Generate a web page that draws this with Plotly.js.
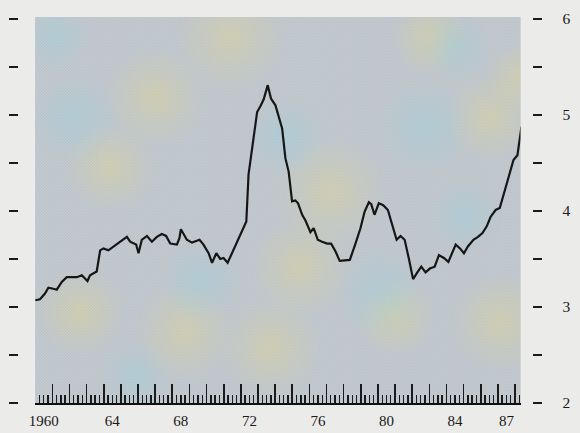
<!DOCTYPE html>
<html>
<head>
<meta charset="utf-8">
<script src="https://cdn.plot.ly/plotly-3.0.1.min.js"></script>
<style>
  html, body { margin: 0; padding: 0; background: #ebebe9; }
  #chart { width: 580px; height: 433px; }
</style>
</head>
<body>
<div id="chart"></div>
<script>
// Time (decimal year) and value
const years = [
  1960.00, 1960.28, 1960.57, 1960.77, 1961.06, 1961.26, 1961.55, 1961.84, 1962.13, 1962.43,
  1962.72, 1962.91, 1963.05, 1963.20, 1963.50, 1963.59, 1963.79, 1963.98, 1964.27, 1964.56,
  1964.96, 1965.35, 1965.54, 1965.73, 1965.89, 1966.03, 1966.22, 1966.52, 1966.81, 1967.10,
  1967.39, 1967.64, 1967.88, 1968.27, 1968.42, 1968.50, 1968.66, 1968.85, 1969.15, 1969.34,
  1969.59, 1969.82, 1970.12, 1970.32, 1970.57, 1970.80, 1970.99, 1971.23, 1971.48, 1971.87,
  1972.20, 1972.32, 1972.45, 1972.60, 1972.79, 1972.95, 1973.14, 1973.33, 1973.57, 1973.76,
  1974.02, 1974.21, 1974.41, 1974.60, 1974.79, 1974.99, 1975.18, 1975.34, 1975.58, 1975.77,
  1976.06, 1976.25, 1976.49, 1976.74, 1977.04, 1977.27, 1977.52, 1977.77, 1978.11, 1978.36,
  1978.69, 1978.98, 1979.22, 1979.47, 1979.61, 1979.80, 1980.05, 1980.31, 1980.58, 1980.84,
  1981.09, 1981.32, 1981.56, 1981.81, 1982.05, 1982.30, 1982.53, 1982.78, 1983.03, 1983.31,
  1983.56, 1983.85, 1984.11, 1984.54, 1984.79, 1985.02, 1985.25, 1985.57, 1985.84, 1986.10,
  1986.35, 1986.58, 1986.87, 1987.11, 1987.36, 1987.65, 1987.91, 1988.14, 1988.38
];
const values = [
  3.07, 3.08, 3.14, 3.20, 3.19, 3.18, 3.26, 3.31, 3.31, 3.31,
  3.33, 3.30, 3.27, 3.33, 3.36, 3.37, 3.59, 3.61, 3.59, 3.63,
  3.68, 3.73, 3.68, 3.66, 3.65, 3.56, 3.70, 3.74, 3.68, 3.73,
  3.76, 3.74, 3.66, 3.65, 3.72, 3.81, 3.76, 3.70, 3.67, 3.68,
  3.70, 3.65, 3.56, 3.46, 3.56, 3.50, 3.51, 3.46, 3.56, 3.72,
  3.85, 3.89, 4.38, 4.58, 4.83, 5.03, 5.09, 5.16, 5.31, 5.17,
  5.10, 4.99, 4.86, 4.55, 4.41, 4.10, 4.11, 4.08, 3.96, 3.90,
  3.78, 3.82, 3.70, 3.68, 3.66, 3.66, 3.58, 3.48, 3.49, 3.49,
  3.66, 3.82, 3.99, 4.09, 4.07, 3.96, 4.08, 4.06, 4.01, 3.85,
  3.70, 3.74, 3.70, 3.50, 3.29, 3.36, 3.42, 3.36, 3.40, 3.42,
  3.54, 3.51, 3.47, 3.65, 3.61, 3.56, 3.63, 3.70, 3.73, 3.77,
  3.84, 3.94, 4.01, 4.03, 4.18, 4.38, 4.53, 4.58, 4.88
];
// Axis labels
const xLabelPos = [1960.5, 1964.5, 1968.5, 1972.5, 1976.5, 1980.5, 1984.5, 1987.5];
const xLabelText = ['1960', '64', '68', '72', '76', '80', '84', '87'];
const yLabelVals = [2, 3, 4, 5, 6];
const yLabelText = ['2', '3', '4', '5', '6'];

const xRange = [1960, 1988.32];
const yRange = [2, 6.02];
const fontFam = '"Liberation Serif", "DejaVu Serif", serif';

// Decorative print-like texture for the plot background (purely visual)
function textureSVG() {
  const W = 485, H = 386;
  const yel = [[195,20,55],[120,80,50],[75,150,45],[295,175,55],[265,250,50],[45,295,45],[150,315,50],[235,330,50],[455,100,45],[465,305,50],[485,60,35],[395,20,40],[360,300,40]];
  const cya = [[40,100,45],[165,265,40],[345,275,45],[390,110,48],[420,30,35],[250,120,40],[100,360,35],[430,200,38],[20,20,35]];
  let s = '<svg xmlns="http://www.w3.org/2000/svg" width="' + W + '" height="' + H + '" viewBox="0 0 ' + W + ' ' + H + '" preserveAspectRatio="none">';
  s += '<defs>';
  s += '<radialGradient id="gy"><stop offset="0" stop-color="#e6d98e" stop-opacity="0.42"/><stop offset="0.5" stop-color="#e6d98e" stop-opacity="0.2"/><stop offset="1" stop-color="#e6d98e" stop-opacity="0"/></radialGradient>';
  s += '<radialGradient id="gc"><stop offset="0" stop-color="#98d4e2" stop-opacity="0.4"/><stop offset="0.5" stop-color="#98d4e2" stop-opacity="0.18"/><stop offset="1" stop-color="#98d4e2" stop-opacity="0"/></radialGradient>';
  s += '<pattern id="hp" width="3" height="3" patternUnits="userSpaceOnUse"><path d="M0,3 L3,0" stroke="#8a929a" stroke-width="0.6" stroke-opacity="0.3"/></pattern>';
  s += '</defs>';
  s += '<rect width="' + W + '" height="' + H + '" fill="#c3cad0"/>';
  yel.forEach(function (b) { s += '<circle cx="' + b[0] + '" cy="' + b[1] + '" r="' + b[2] + '" fill="url(#gy)"/>'; });
  cya.forEach(function (b) { s += '<circle cx="' + b[0] + '" cy="' + b[1] + '" r="' + b[2] + '" fill="url(#gc)"/>'; });
  s += '<rect width="' + W + '" height="' + H + '" fill="url(#hp)"/>';
  s += '</svg>';
  return 'data:image/svg+xml;charset=utf-8,' + encodeURIComponent(s);
}

const traces = [
  {
    x: years, y: values, type: 'scatter', mode: 'lines',
    line: { color: '#161616', width: 2.2, shape: 'linear' },
    hoverinfo: 'skip', showlegend: false,
    xaxis: 'x', yaxis: 'y'
  },
  { x: years, y: values, mode: 'lines', line: { width: 0 }, opacity: 0, hoverinfo: 'skip', showlegend: false, xaxis: 'x2', yaxis: 'y' },
  { x: years, y: values, mode: 'lines', line: { width: 0 }, opacity: 0, hoverinfo: 'skip', showlegend: false, xaxis: 'x', yaxis: 'y2' },
  { x: years, y: values, mode: 'lines', line: { width: 0 }, opacity: 0, hoverinfo: 'skip', showlegend: false, xaxis: 'x', yaxis: 'y3' }
];

const xDom = [35.2 / 580, 520.5 / 580];
const yDom = [30 / 433, 416 / 433];

const layout = {
  width: 580, height: 433,
  margin: { l: 0, r: 0, t: 0, b: 0, pad: 0 },
  paper_bgcolor: '#ebebe9',
  plot_bgcolor: '#c3cad0',
  showlegend: false,
  font: { family: fontFam, size: 15, color: '#1a1a1a' },
  images: [{
    source: textureSVG(), xref: 'paper', yref: 'paper',
    x: xDom[0], y: yDom[1], sizex: xDom[1] - xDom[0], sizey: yDom[1] - yDom[0],
    xanchor: 'left', yanchor: 'top', sizing: 'stretch', layer: 'below'
  }],
  xaxis: {
    domain: xDom,
    range: xRange,
    showgrid: false, zeroline: false,
    showline: true, linecolor: '#111', linewidth: 2.2,
    ticks: 'inside', tick0: 1960, dtick: 1, ticklen: 19, tickwidth: 1.6, tickcolor: '#1a1a1a',
    minor: { tick0: 1960, dtick: 0.25, ticks: 'inside', ticklen: 8, tickwidth: 1.4, tickcolor: '#1a1a1a', showgrid: false },
    showticklabels: false,
    anchor: 'y'
  },
  xaxis2: {
    overlaying: 'x', matches: 'x', range: xRange, anchor: 'y', side: 'bottom',
    showgrid: false, zeroline: false, showline: false,
    ticks: '', tickmode: 'array', tickvals: xLabelPos, ticktext: xLabelText,
    tickfont: { family: fontFam, size: 15, color: '#1a1a1a' },
    ticklabelstandoff: 7
  },
  yaxis: {
    domain: yDom,
    range: yRange,
    showgrid: false, zeroline: false, showline: false,
    ticks: '', showticklabels: false,
    anchor: 'x'
  },
  yaxis2: {
    overlaying: 'y', matches: 'y', range: yRange,
    anchor: 'free', position: 531.5 / 580, side: 'right',
    showgrid: false, zeroline: false, showline: false,
    ticks: 'outside', ticklen: 9, tickwidth: 2.4, tickcolor: '#1a1a1a',
    tickmode: 'array', tickvals: yLabelVals, ticktext: yLabelText,
    minor: { tick0: 2, dtick: 0.5, ticks: 'outside', ticklen: 9, tickwidth: 2.4, tickcolor: '#1a1a1a', showgrid: false },
    tickfont: { family: fontFam, size: 15.5, color: '#1a1a1a' },
    ticklabelstandoff: 18
  },
  yaxis3: {
    overlaying: 'y', matches: 'y', range: yRange,
    anchor: 'free', position: 18 / 580, side: 'left',
    showgrid: false, zeroline: false, showline: false,
    ticks: 'outside', ticklen: 9, tickwidth: 2.4, tickcolor: '#1a1a1a',
    tick0: 2, dtick: 0.5,
    showticklabels: false
  }
};

Plotly.newPlot('chart', traces, layout, { displayModeBar: false, staticPlot: true });
</script>
</body>
</html>
